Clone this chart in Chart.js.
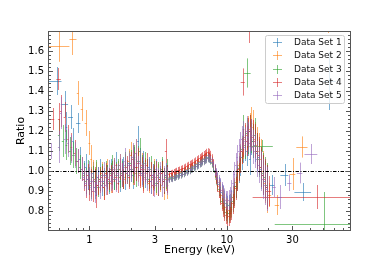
<!DOCTYPE html>
<html><head><meta charset="utf-8">
<script src="https://cdn.jsdelivr.net/npm/chart.js@4.4.0/dist/chart.umd.min.js"></script>
<style>html,body{margin:0;padding:0;background:#fff}#c{display:block}</style>
</head><body>
<canvas id="c" width="390" height="260"></canvas>
<script>
const setLabels = ['Data Set 1','Data Set 2','Data Set 3','Data Set 4','Data Set 5'];
const setColors = ['31,119,180','255,127,14','44,160,44','214,39,40','148,103,189'];

// soft band (keV)
const softEnergy = [0.60,0.62,0.64,0.66,0.68,0.70,0.72,0.74,0.76,0.78,0.80,0.82,0.85,0.88,0.91,0.94,0.97,1.00,1.03,1.06,1.09,1.12,1.15,1.19,1.23,1.27,1.31,1.35,1.39,1.43,1.47,1.52,1.57,1.62,1.67,1.72,1.77,1.82,1.88,1.94,2.00,2.06,2.12,2.19,2.26,2.33,2.40,2.47,2.55,2.63,2.71,2.79,2.88,2.97,3.06,3.16,3.26,3.37,3.48,3.60,3.70];
const softErr = [0.08,0.08,0.08,0.075,0.075,0.07,0.07,0.07,0.065,0.065,0.065,0.06,0.06,0.06,
  0.06,0.065,0.055,0.06,0.07,0.055,0.06,0.065,0.05,0.06,0.055,0.065,0.05,0.06,0.055,0.05,0.06,0.055,0.065,0.05,0.055,0.06,0.05,0.065,0.055,0.06,0.065,0.07,0.06,0.07,0.075,0.065,0.06,0.07,0.055,0.06,0.05,0.065,0.055,0.06,0.05,0.065,0.055,0.06,0.065,0.06,0.07];
const softRatio1 = [null,null,null,null,1.22,null,null,null,1.15,null,null,null,1.06,null,
  0.99,1.02,0.96,0.94,0.95,0.99,0.92,0.94,0.97,1.00,0.93,0.95,0.98,0.97,0.94,1.01,0.99,0.96,1.03,0.98,0.95,1.00,1.02,0.97,0.99,1.04,1.01,0.98,1.06,1.02,1.15,1.05,0.99,1.03,0.97,1.00,1.02,0.95,0.98,0.96,1.01,0.94,0.97,1.00,0.95,0.98,0.96];
const softRatio2 = [null,null,null,null,null,null,null,null,null,null,null,1.39,null,1.31,null,1.24,null,1.14,1.06,1.00,
  0.95,0.98,0.93,0.96,0.99,0.92,0.97,1.00,0.96,0.94,0.99,1.01,0.97,1.00,1.03,0.98,0.96,1.02,0.99,1.05,1.08,1.00,1.04,1.09,1.02,0.99,1.03,0.97,1.01,0.99,0.94,0.98,0.96,1.00,0.93,0.97,0.95,0.99,0.92,0.96,0.93];
const softRatio3 = [1.18,null,1.15,null,1.13,null,1.10,null,1.08,null,1.05,null,1.02,null,
  0.98,0.95,1.00,0.96,0.93,0.97,0.95,0.99,0.92,0.96,0.98,0.94,1.00,0.97,0.95,0.99,1.02,0.96,0.98,1.01,0.97,0.99,0.96,1.03,1.00,0.98,1.04,1.01,1.07,0.99,1.05,1.10,1.02,0.98,1.04,1.00,0.96,1.01,0.97,0.99,0.94,0.98,0.96,1.01,0.95,0.97,0.99];
const softRatio4 = [1.26,1.30,null,1.27,null,1.16,null,1.12,null,1.09,null,1.05,null,1.01,
  0.96,0.93,0.98,0.91,0.94,0.90,0.96,0.88,0.93,0.95,0.97,0.92,0.99,0.94,0.96,0.98,0.95,1.00,0.97,0.94,1.01,0.98,0.96,1.00,1.02,0.97,1.03,1.06,0.99,1.02,1.04,0.98,1.01,0.96,1.00,1.03,0.95,0.98,0.93,0.97,1.00,0.94,0.96,0.99,0.95,1.10,0.96];
const softRatio5 = [1.12,1.29,null,1.16,null,1.14,null,1.11,null,1.08,null,1.05,null,1.01,
  0.97,0.94,0.96,0.99,0.92,0.95,0.90,0.94,0.97,0.92,0.95,0.98,0.93,0.96,1.00,0.95,0.97,1.01,0.96,0.99,1.03,0.98,1.00,1.05,0.99,1.03,1.01,1.07,1.03,1.09,1.00,1.04,0.98,1.02,0.99,0.96,1.01,0.95,0.98,0.93,0.97,0.95,0.99,0.93,0.96,0.98,0.95];

// hard band (keV)
const hardEnergy = [3.80,3.90,4.00,4.10,4.20,4.30,4.40,4.50,4.62,4.74,4.86,4.98,5.10,5.23,5.36,5.49,5.62,5.76,5.90,6.04,6.18,6.33,6.48,6.63,6.78,6.94,7.10,7.26,7.43,7.60,7.78,7.96,8.15,8.34,8.54,8.74,8.95,9.16,9.38,9.60,9.83,10.06,10.30,10.55,10.80,11.06,11.33,11.60,11.90,12.20,12.50,12.85,13.20,13.55,13.90,14.30,14.70,15.10,15.50,16.00,16.50,17.00,17.60,18.20,18.80,19.50];
const hardErr = [0.016,0.016,0.016,0.016,0.016,0.016,0.016,0.016,
  0.016,0.016,0.016,0.016,0.017,0.017,0.017,0.017,
  0.017,0.017,0.017,0.018,0.018,0.018,0.018,0.018,
  0.019,0.019,0.02,0.02,0.021,0.021,0.022,0.022,
  0.03,0.03,0.035,0.035,0.04,0.04,0.045,0.045,
  0.045,0.05,0.05,0.05,0.055,0.055,0.06,0.06,
  0.06,0.06,0.065,0.065,0.07,0.07,0.075,0.075,
  0.08,0.08,0.085,0.085,0.09,0.09,0.1,0.1,0.1,0.11];
const hardRatio1 = [0.965,0.970,0.968,0.975,0.978,0.982,0.980,0.988,0.990,0.993,0.998,1.000,1.005,1.006,1.013,1.015,1.022,1.024,1.030,1.034,1.041,1.044,1.050,1.053,1.060,1.064,1.070,1.072,1.068,1.060,1.046,1.025,1.002,0.978,0.955,0.935,0.918,0.896,0.880,0.858,0.842,0.826,0.830,0.835,0.850,0.872,0.895,0.925,0.960,1.000,1.040,1.070,1.110,1.120,1.100,1.150,1.060,1.160,1.150,1.130,1.090,1.070,1.010,0.980,0.950,0.920];
const hardRatio2 = [0.972,0.974,0.976,0.976,0.983,0.985,0.989,0.991,0.994,0.999,1.002,1.006,1.010,1.014,1.016,1.022,1.026,1.031,1.036,1.042,1.046,1.051,1.057,1.061,1.066,1.071,1.076,1.079,1.074,1.066,1.052,1.032,1.000,0.972,0.948,0.925,0.905,0.882,0.862,0.842,0.822,0.812,0.805,0.815,0.838,0.868,0.905,0.945,0.990,1.030,1.070,1.100,1.130,1.160,1.180,1.200,1.210,1.240,1.220,1.160,1.130,1.100,1.060,1.000,0.940,0.900];
const hardRatio3 = [0.958,0.963,0.962,0.967,0.968,0.972,0.973,0.978,0.979,0.984,0.986,0.992,0.995,1.000,1.002,1.007,1.011,1.016,1.021,1.025,1.031,1.036,1.040,1.046,1.051,1.055,1.061,1.064,1.062,1.053,1.040,1.020,0.995,0.962,0.935,0.908,0.880,0.852,0.828,0.808,0.795,0.788,0.790,0.802,0.822,0.850,0.885,0.925,0.970,1.015,1.060,1.110,1.210,1.130,1.190,1.160,1.200,1.170,1.150,1.180,1.100,1.060,1.020,0.990,0.970,0.930];
const hardRatio4 = [0.984,0.988,0.990,0.994,0.997,1.000,1.004,1.006,1.010,1.013,1.017,1.021,1.025,1.029,1.034,1.037,1.041,1.046,1.051,1.056,1.061,1.066,1.071,1.076,1.081,1.086,1.091,1.094,1.090,1.080,1.062,1.038,1.000,0.965,0.930,0.900,0.870,0.840,0.815,0.795,0.780,0.770,0.775,0.790,0.810,0.840,0.875,0.915,0.960,1.010,1.055,1.100,1.140,1.170,1.150,1.190,1.200,1.180,1.170,1.150,1.100,1.080,1.020,0.980,0.960,0.920];
const hardRatio5 = [0.956,0.962,0.960,0.968,0.966,0.974,0.972,0.980,0.978,0.986,0.984,0.994,0.992,1.002,1.000,1.010,1.008,1.018,1.020,1.026,1.028,1.036,1.038,1.046,1.048,1.056,1.058,1.064,1.062,1.056,1.045,1.028,1.005,0.985,0.965,0.945,0.925,0.905,0.885,0.868,0.855,0.850,0.855,0.870,0.900,0.940,0.985,1.030,1.070,1.100,1.130,1.160,1.180,1.150,1.200,1.170,1.140,1.180,1.120,1.100,1.060,1.030,1.000,0.960,0.930,0.910];

// wide single bins: [energy, low edge, high edge, ratio, error]
const wideBins1 = [[0.577,0.505,0.627,1.45,0.07],[0.66,0.62,0.70,1.335,0.065],[0.73,0.70,0.76,1.27,0.06],[0.83,0.80,0.86,1.24,0.05],[21.2,20.3,22.2,0.93,0.05],[26.3,24.5,28,0.98,0.055],[36,31,41,0.895,0.045],[55.6,50,62,1.45,0.145]];
const wideBins2 = [[0.60,0.505,0.716,1.626,0.08],[0.753,0.716,0.806,1.66,0.08],[20.4,19.8,21,0.88,0.06],[23.1,22.3,24,0.83,0.05],[30.1,28.5,31.5,0.985,0.08],[35,32,38.6,1.12,0.053],[54,50,60,1.78,0.09]];
const wideBins3 = [[13.9,13.3,14.9,1.49,0.073],[17.9,14.6,21.6,1.125,0.03],[50.6,22.3,115,0.735,0.16]];
const wideBins4 = [[0.54,0.525,0.555,1.26,0.055],[0.596,0.575,0.62,1.46,0.055],[13.0,12.6,13.5,1.445,0.068],[14.4,14.2,14.7,1.75,0.11],[20.2,19.5,21,0.90,0.075],[44.9,15.4,131,0.87,0.06]];
const wideBins5 = [[0.53,0.515,0.545,1.10,0.04],[22,21.3,22.7,0.92,0.05],[24.2,23.3,25.1,0.87,0.06],[28.5,27.5,29.5,0.94,0.04],[33.8,32.3,35.4,0.99,0.052],[41,36.7,45.5,1.085,0.05]];

const xTickLabels = [1,3,10,30];
const xMinorTicks = [0.6,0.7,0.8,0.9,2,4,5,6,7,8,9,20,40,50,60,70];
const yTickLabels = [0.8,0.9,1.0,1.1,1.2,1.3,1.4,1.5,1.6];
const referenceRatio = 1.0;

const softSets = [softRatio1,softRatio2,softRatio3,softRatio4,softRatio5];
const hardSets = [hardRatio1,hardRatio2,hardRatio3,hardRatio4,hardRatio5];
const wideSets = [wideBins1,wideBins2,wideBins3,wideBins4,wideBins5];

function edges(E, i) {
  const prev = i > 0 ? E[i-1] : E[i]*E[i]/E[i+1];
  const next = i < E.length-1 ? E[i+1] : E[i]*E[i]/E[i-1];
  return [Math.sqrt(prev*E[i]), Math.sqrt(E[i]*next)];
}
function points(k) {
  const pts = [];
  const add = (E, R, Er) => R.forEach((r, i) => {
    if (r == null || i >= E.length) return;
    const [lo, hi] = edges(E, i);
    pts.push({x: E[i], y: r, lo, hi, err: Er[i]});
  });
  wideSets[k].forEach(([e, lo, hi, r, err]) => { if (e < 1) pts.push({x: e, y: r, lo, hi, err}); });
  add(softEnergy, softSets[k], softErr);
  add(hardEnergy, hardSets[k], hardErr);
  wideSets[k].forEach(([e, lo, hi, r, err]) => { if (e >= 1) pts.push({x: e, y: r, lo, hi, err}); });
  return pts;
}

const FONT = "'DejaVu Sans', sans-serif";
const ALPHA = 0.6;

const errorBars = {
  id: 'errorBars',
  afterDatasetsDraw(chart) {
    const {ctx, chartArea: a, scales: {x, y}} = chart;
    ctx.save();
    ctx.beginPath(); ctx.rect(a.left, a.top, a.right - a.left, a.bottom - a.top); ctx.clip();
    ctx.lineWidth = 1;
    chart.data.datasets.forEach((ds, k) => {
      ctx.strokeStyle = 'rgba(' + setColors[k] + ',' + ALPHA + ')';
      ds.data.forEach(p => {
        const px = Math.round(x.getPixelForValue(p.x)) + 0.5;
        const py = Math.round(y.getPixelForValue(p.y)) + 0.5;
        ctx.beginPath();
        ctx.moveTo(px, y.getPixelForValue(p.y - p.err));
        ctx.lineTo(px, y.getPixelForValue(p.y + p.err));
        ctx.stroke();
        ctx.beginPath();
        ctx.moveTo(x.getPixelForValue(p.lo), py);
        ctx.lineTo(x.getPixelForValue(p.hi), py);
        ctx.stroke();
      });
    });
    const ry = Math.round(y.getPixelForValue(referenceRatio)) + 0.5;
    ctx.strokeStyle = '#000';
    ctx.setLineDash([3.5, 1.5, 1, 1.5]);
    ctx.beginPath(); ctx.moveTo(a.left, ry); ctx.lineTo(a.right, ry); ctx.stroke();
    ctx.restore();
  },
  afterDraw(chart) {
    const {ctx, chartArea: a, scales: {x, y}} = chart;
    ctx.save();
    ctx.strokeStyle = '#555';
    ctx.lineWidth = 1;
    const L = Math.round(a.left) + 0.5, R = Math.round(a.right) - 0.5;
    const T = Math.round(a.top) + 0.5, B = Math.round(a.bottom) - 0.5;
    ctx.beginPath();
    xTickLabels.forEach(v => { const p = Math.round(x.getPixelForValue(v)) + 0.5; ctx.moveTo(p, B); ctx.lineTo(p, B - 4.5); });
    xMinorTicks.forEach(v => { const p = Math.round(x.getPixelForValue(v)) + 0.5; ctx.moveTo(p, B); ctx.lineTo(p, B - 2.5); });
    for (let i = 1; i < 50; i++) {
      const v = 0.7 + i * 0.02;
      const p = Math.round(y.getPixelForValue(v)) + 0.5;
      const len = (i % 5) === 0 ? 4.5 : 2.5;
      ctx.moveTo(L, p); ctx.lineTo(L + len, p);
      ctx.moveTo(R, p); ctx.lineTo(R - len, p);
    }
    ctx.stroke();
    ctx.strokeRect(L, T, R - L, B - T);

    // legend
    const lx = 265.5, ly = 35.5, lw = 79, lh = 68;
    ctx.fillStyle = 'rgba(255,255,255,0.8)';
    ctx.strokeStyle = '#cccccc';
    ctx.beginPath();
    if (ctx.roundRect) ctx.roundRect(lx, ly, lw, lh, 2); else ctx.rect(lx, ly, lw, lh);
    ctx.fill(); ctx.stroke();
    ctx.font = '9px ' + FONT;
    ctx.textBaseline = 'middle';
    ctx.textAlign = 'left';
    chart.data.datasets.forEach((ds, k) => {
      const cy = Math.round(42 + k * 13.3) + 0.5;
      const cx = 277.5;
      ctx.strokeStyle = 'rgba(' + setColors[k] + ',' + ALPHA + ')';
      ctx.beginPath();
      ctx.moveTo(cx - 4.5, cy); ctx.lineTo(cx + 4.5, cy);
      ctx.moveTo(cx, cy - 4.5); ctx.lineTo(cx, cy + 4.5);
      ctx.stroke();
      ctx.fillStyle = '#111';
      ctx.fillText(ds.label, 294, cy + 0.5);
    });
    ctx.restore();
  }
};

new Chart(document.getElementById('c'), {
  type: 'scatter',
  data: {
    datasets: setLabels.map((label, k) => ({
      label, data: points(k), pointRadius: 0, pointHoverRadius: 0, showLine: false,
      borderColor: 'rgba(' + setColors[k] + ',' + ALPHA + ')'
    }))
  },
  options: {
    responsive: false, animation: false, devicePixelRatio: 1,
    layout: {padding: {left: 0, right: 39, top: 31, bottom: 0}},
    plugins: {legend: {display: false}, tooltip: {enabled: false}},
    scales: {
      x: {
        type: 'logarithmic', min: 0.5, max: 80,
        afterBuildTicks: s => { s.ticks = xTickLabels.map(v => ({value: v})); },
        afterFit: s => { s.height = 29; },
        grid: {display: false, drawTicks: false, tickLength: 0}, border: {display: false},
        ticks: {autoSkip: false, maxRotation: 0, padding: 3, color: '#000',
          font: {family: FONT, size: 10}, callback: v => String(v)},
        title: {display: true, text: 'Energy (keV)', color: '#000',
          font: {family: FONT, size: 11}, padding: {top: 0, bottom: 3.4}}
      },
      y: {
        type: 'linear', min: 0.7, max: 1.7,
        afterBuildTicks: s => { s.ticks = yTickLabels.map(v => ({value: v})); },
        afterFit: s => { s.width = 48; },
        grid: {display: false, drawTicks: false, tickLength: 0}, border: {display: false},
        ticks: {autoSkip: false, padding: 4, color: '#000',
          font: {family: FONT, size: 10}, callback: v => v.toFixed(1)},
        title: {display: true, text: 'Ratio', color: '#000',
          font: {family: FONT, size: 11}, padding: {top: 14.4, bottom: 0}}
      }
    }
  },
  plugins: [errorBars]
});
</script>
</body></html>
